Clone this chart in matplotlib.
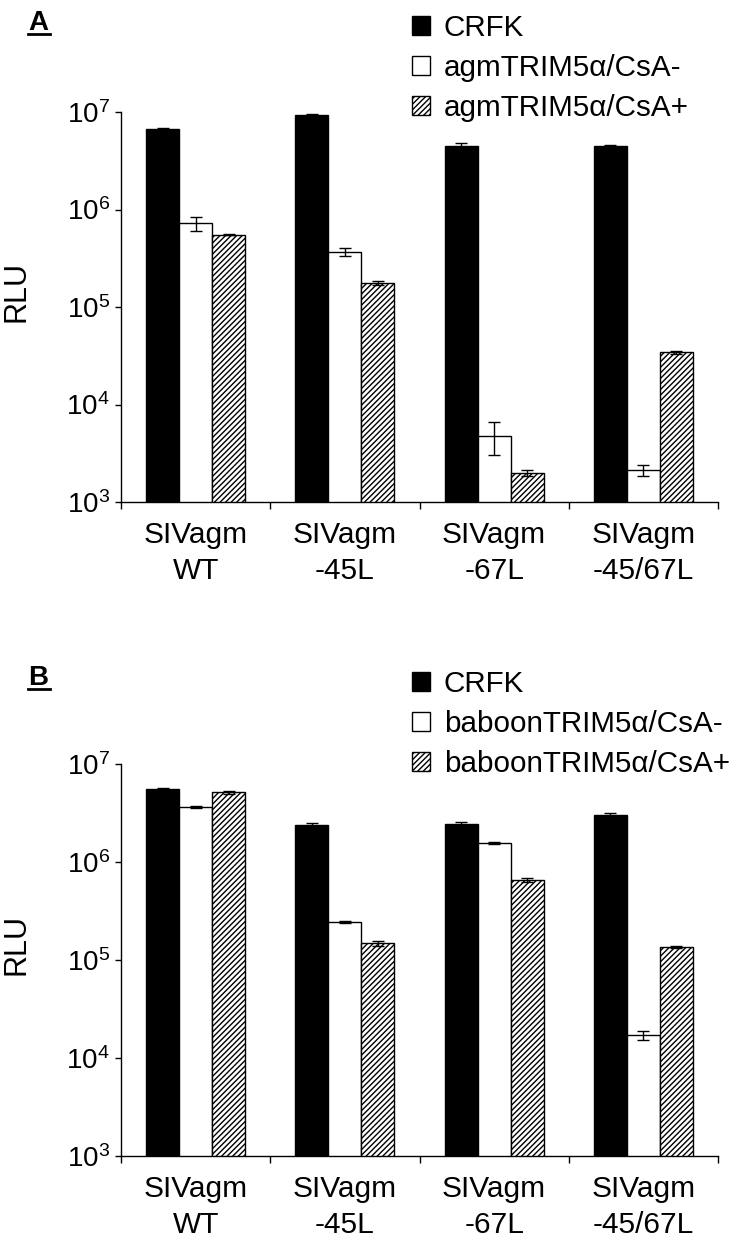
import numpy as np
import matplotlib
matplotlib.use("Agg")
import matplotlib.pyplot as plt
from matplotlib.patches import Patch
from matplotlib.lines import Line2D
from matplotlib.ticker import FixedLocator, NullFormatter

plt.rcParams['font.family'] = ['Liberation Sans', 'DejaVu Sans']
plt.rcParams['mathtext.default'] = 'regular'
plt.rcParams['hatch.linewidth'] = 1.0

cats = ['SIVagm\nWT', 'SIVagm\n-45L', 'SIVagm\n-67L', 'SIVagm\n-45/67L']

# panel A: agm TRIM5a
crfk_a = [6.7e6, 9.25e6, 4.48e6, 4.45e6]
crfk_a_err = [1.5e5, 2e5, 3e5, 1e5]
csam_a = [7.2e5, 3.65e5, 4.8e3, 2.13e3]
csam_a_err = [1.2e5, 3.5e4, 1.8e3, 2.8e2]
csap_a = [5.5e5, 1.78e5, 2.0e3, 3.42e4]
csap_a_err = [8e3, 8e3, 1.5e2, 1e3]

# panel B: baboon TRIM5a
crfk_b = [5.55e6, 2.36e6, 2.44e6, 3.04e6]
crfk_b_err = [1.5e5, 1.3e5, 1.3e5, 1.5e5]
csam_b = [3.63e6, 2.44e5, 1.57e6, 1.70e4]
csam_b_err = [8e4, 5e3, 3e4, 1.9e3]
csap_b = [5.13e6, 1.48e5, 6.55e5, 1.37e5]
csap_b_err = [1.5e5, 9e3, 3.5e4, 3e3]

labels_a = ['CRFK', 'agmTRIM5α/CsA-', 'agmTRIM5α/CsA+']
labels_b = ['CRFK', 'baboonTRIM5α/CsA-', 'baboonTRIM5α/CsA+']

W, H = 750, 1243
fig = plt.figure(figsize=(W / 100, H / 100), dpi=100)

def panel(rect, series, errs, labels, letter, letter_y, leg_y):
    ax = fig.add_axes(rect)
    x = np.arange(len(cats))
    w = 0.221
    styles = [dict(color='black', edgecolor='black'),
              dict(color='white', edgecolor='black'),
              dict(color='white', edgecolor='black', hatch='//////')]
    for k, (vals, er, st) in enumerate(zip(series, errs, styles)):
        ax.bar(x + (k - 1) * w, vals, w, bottom=0, linewidth=1.0, **st)
        ax.errorbar(x + (k - 1) * w, vals, yerr=er, fmt='none', ecolor='black',
                    elinewidth=1.0, capsize=4.5, capthick=1.0)
    ax.set_yscale('log')
    ax.set_ylim(1e3, 1e7)
    ax.set_xlim(-0.5, 3.5)
    ax.yaxis.set_major_locator(FixedLocator([1e3, 1e4, 1e5, 1e6, 1e7]))
    ax.yaxis.set_minor_locator(FixedLocator([]))
    ax.set_yticklabels(['$10^{%d}$' % p for p in range(3, 8)], fontsize=20)
    ax.tick_params(axis='y', length=4, width=1, pad=4)
    ax.set_xticks(x)
    ax.set_xticklabels(cats, fontsize=21.5, linespacing=1.33)
    ax.set_xticks(np.arange(-0.5, 4.0, 1.0), minor=True)
    ax.xaxis.set_minor_formatter(NullFormatter())
    ax.tick_params(axis='x', which='major', length=0, pad=14)
    ax.tick_params(axis='x', which='minor', length=5, width=1)
    for s in ['top', 'right']:
        ax.spines[s].set_visible(False)
    for s in ['left', 'bottom']:
        ax.spines[s].set_linewidth(1.0)
    ax.set_ylabel('RLU', fontsize=22)
    ax.yaxis.set_label_coords(-0.15, 0.54)

    handles = [Patch(facecolor='black', edgecolor='black', linewidth=1),
               Patch(facecolor='white', edgecolor='black', linewidth=1),
               Patch(facecolor='white', edgecolor='black', linewidth=1, hatch='//////')]
    fig.legend(handles, labels, loc='center left', bbox_to_anchor=(412 / W, leg_y),
               frameon=False, fontsize=21.3, borderpad=0, handlelength=0.6,
               handleheight=0.6, handletextpad=0.47, labelspacing=0.41,
               borderaxespad=0)

    fig.text(28 / W, letter_y, letter, fontsize=20, fontweight='bold',
             ha='left', va='baseline')
    fig.add_artist(Line2D([28 / W, 50 / W], [letter_y - 4 / H, letter_y - 4 / H],
                          color='black', linewidth=2))
    return ax

panel([121 / W, 1 - 502 / H, 597 / W, 390 / H],
      [crfk_a, csam_a, csap_a], [crfk_a_err, csam_a_err, csap_a_err],
      labels_a, 'A', 1 - 30 / H, 1 - 68 / H)
panel([121 / W, 1 - 1156 / H, 597 / W, 392 / H],
      [crfk_b, csam_b, csap_b], [crfk_b_err, csam_b_err, csap_b_err],
      labels_b, 'B', 1 - 685 / H, 1 - 724 / H)

fig.savefig('out.png', dpi=100)
